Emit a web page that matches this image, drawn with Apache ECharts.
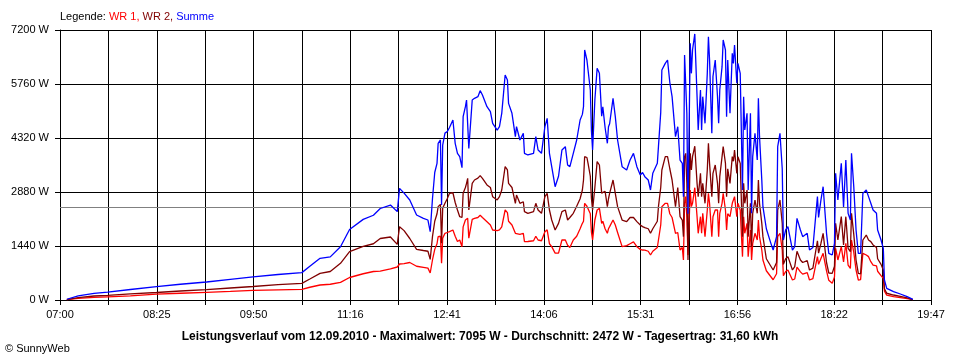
<!DOCTYPE html>
<html><head><meta charset="utf-8">
<script src="https://cdn.jsdelivr.net/npm/echarts@6/dist/echarts.min.js"></script>
<style>html,body{margin:0;padding:0;background:#fff}#c{width:960px;height:360px}</style>
</head><body><div id="c"></div>
<script>
// Time stamps (HH:MM)
const times = [
'07:06','07:16','07:30','07:42','08:02','08:25','08:46','09:09','09:30','09:50',
'10:12','10:33','10:40','10:49','10:58','11:07','11:15','11:27','11:36','11:42',
'11:51','11:57','11:59','12:03','12:08','12:14','12:20','12:24','12:26','12:28',
'12:30','12:32','12:33','12:35','12:36','12:37','12:39','12:41','12:43','12:46',
'12:48','12:50','12:52','12:54','12:55','12:57','12:58','12:59','13:00','13:03',
'13:05','13:08','13:10','13:12','13:16','13:19','13:21','13:25','13:27','13:29',
'13:32','13:34','13:35','13:38','13:41','13:42','13:45','13:48','13:49','13:52',
'13:57','13:59','14:01','14:04','14:07','14:09','14:11','14:13','14:16','14:19',
'14:22','14:25','14:27','14:29','14:32','14:35','14:38','14:40','14:41','14:42',
'14:44','14:45','14:47','14:48','14:49','14:51','14:53','14:55','14:57','14:58',
'15:00','15:02','15:03','15:04','15:07','15:09','15:11','15:15','15:19','15:22',
'15:25','15:28','15:31','15:33','15:35','15:38','15:40','15:42','15:46','15:47',
'15:49','15:50','15:53','15:55','15:57','15:59','16:02','16:04','16:06','16:08',
'16:09','16:10','16:11','16:12','16:13','16:15','16:16','16:17','16:19','16:21',
'16:22','16:24','16:25','16:26','16:28','16:30','16:31','16:32','16:34','16:35',
'16:37','16:39','16:40','16:41','16:43','16:44','16:46','16:47','16:48','16:50',
'16:52','16:53','16:54','16:56','16:57','16:59','17:01','17:02','17:03','17:05',
'17:06','17:08','17:09','17:10','17:12','17:14','17:15','17:16','17:18','17:19',
'17:22','17:23','17:26','17:28','17:31','17:32','17:34','17:36','17:37','17:39',
'17:41','17:45','17:47','17:49','17:52','17:54','17:58','18:00','18:03','18:07',
'18:08','18:10','18:12','18:15','18:17','18:20','18:22','18:23','18:25','18:28',
'18:30','18:32','18:34','18:36','18:37','18:39','18:41','18:43','18:45','18:47',
'18:50','18:52','18:54','18:56','18:59','19:00','19:03','19:05','19:06','19:08',
'19:14','19:20','19:26','19:31'
];
// WR 2 (dark red), W
const wr2 = [
10,65,107,125,165,200,240,275,320,360,
410,445,560,711,760,978,1289,1430,1500,1640,
1680,1484,1956,1850,1640,1351,1320,1300,1084,1689,
2100,2300,2489,2550,1511,2450,2578,2700,2844,2860,
2600,2400,2222,2200,2844,3000,3111,3244,2400,3111,
3200,3250,3316,3244,3067,3000,2756,2667,2756,2933,
3556,3467,3111,3000,2578,2800,2578,2620,2356,2311,
2356,2578,2400,2311,2756,2844,2400,2133,1867,2044,
2356,2400,2133,2200,2311,2500,2700,2933,3200,3822,
3800,3644,3300,2700,2400,3000,3689,3600,2850,2900,
2900,2489,2700,2844,3200,2844,2489,2133,2090,2200,
2200,2090,2000,1956,1930,1900,1778,1900,2100,2489,
3000,3467,3822,3822,3500,3200,2489,3000,2222,2133,
1689,3822,3911,3111,1067,3911,3467,3822,4100,3111,
2756,3378,2756,3111,2578,3467,4178,3644,2756,3378,
3600,3111,2578,3289,3822,4089,3644,2756,3500,3111,
3822,3700,4000,3378,3822,3644,1689,3111,2578,2933,
1689,2578,1422,2311,2667,2311,3200,2578,2044,1689,
1100,1100,900,800,1000,2400,2667,2044,950,1100,
1156,800,889,1300,1067,1000,1050,800,850,1580,
1250,1500,1778,1000,720,711,900,2044,1600,2222,
1467,2222,1378,1289,2311,1750,1067,711,700,1600,
1733,1600,1556,1467,1400,1100,950,800,300,180,
133,98,55,10
];
// WR 1 (red), W
const wr1 = [
10,45,71,85,110,155,180,205,230,255,
270,285,340,400,420,470,600,700,760,770,
830,880,960,970,1000,900,870,850,720,1067,
1350,1500,1689,1700,978,1650,1778,1800,1822,1867,
1700,1560,1600,1422,1950,2133,2150,2178,1650,2150,
2178,2200,2258,2200,2089,2000,1867,1850,1867,1950,
2400,2330,2100,2000,1778,1820,1750,1780,1556,1560,
1580,1700,1600,1580,1822,1870,1500,1422,1250,1250,
1600,1600,1460,1400,1600,1700,1900,2044,2100,2578,
2500,2489,2300,1800,1600,2133,2400,2444,2044,2100,
1900,1778,1900,1956,2133,2000,1800,1422,1450,1500,
1550,1422,1350,1333,1330,1300,1200,1300,1400,1600,
2000,2489,2578,2578,2300,2200,1778,1800,1333,1400,
1067,2578,2756,2222,1200,2933,2489,2578,2995,2222,
1778,2222,1778,2311,1689,2400,2844,2578,1689,2222,
2400,2400,1689,2311,2578,2844,2400,1867,2300,2222,
2578,2600,2756,2222,2578,2400,1156,2222,1778,2044,
1156,1867,1067,1511,1778,1600,2133,1689,1333,1067,
780,760,620,540,700,1689,1780,1333,650,760,
800,533,560,878,750,689,730,533,570,1156,
950,1100,1244,778,524,444,611,1380,1067,1422,
1013,1511,933,844,1600,1272,800,533,544,1244,
1200,1156,1022,933,911,767,650,578,233,131,
89,62,34,8
];
// Summe (blue), W
const summe = [
20,110,178,210,280,355,420,480,550,615,
680,730,900,1111,1150,1420,1880,2150,2260,2440,
2533,2356,2978,2850,2667,2267,2178,2133,1822,2700,
3400,3644,4178,4267,2533,4133,4450,4489,4600,4800,
4178,3911,3822,3530,4889,5156,5333,5378,4044,5333,
5378,5422,5582,5467,5156,5022,4711,4533,4622,4978,
6000,5867,5244,4978,4356,4622,4267,4444,3911,3867,
3911,4356,4000,3911,4622,4844,3911,3556,3022,3300,
4000,4089,3600,3556,3911,4267,4800,4950,5156,6667,
6400,6133,5600,4500,4000,5333,6178,6044,4900,5150,
4600,4178,4622,4700,5378,4889,4267,3556,3467,3733,
3911,3556,3333,3400,3289,3200,2933,3378,3644,4089,
5000,6133,6311,6400,5800,5422,4356,4622,3733,3644,
2756,6533,6578,4978,2300,6844,6044,6667,7095,5422,
4533,5600,4533,5422,4711,6044,7022,6400,4444,5960,
6400,5422,4711,5600,6222,6933,6667,4889,6400,4978,
6578,6311,6800,5778,6311,6044,2933,5422,4533,4978,
2933,4978,2311,3822,4444,3733,5378,4356,3200,2489,
1900,1867,1511,1333,1689,4089,4444,3500,1600,1867,
1956,1333,1422,2178,1867,1689,1780,1333,1400,2756,
2200,2650,3022,1778,1244,1200,1511,3378,2667,3644,
2480,3733,2311,2133,3911,3022,1867,1244,1244,2844,
2933,2756,2578,2400,2311,1867,1600,1378,533,311,
222,160,89,18
];
const tickLabels = ['07:00','08:25','09:50','11:16','12:41','14:06','15:31','16:56','18:22','19:47'];
const yMax = 7200, yStep = 1440;
const average = 2472;
const startMin = 7*60, spanMin = 767, nTicks = 18;
const legendText = ['Legende: ', 'WR 1, ', 'WR 2, ', 'Summe'];
const titleText = 'Leistungsverlauf vom 12.09.2010 - Maximalwert: 7095 W - Durchschnitt: 2472 W - Tagesertrag: 31,60 kWh';
const copyText = '\u00A9 SunnyWeb';

function toX(t){const p=t.split(':').map(Number);return (p[0]*60+p[1]-startMin)*nTicks/spanMin;}
function pairs(arr){return times.map((t,i)=>[toX(t),arr[i]]);}
const FONT = '"Liberation Sans", Arial, sans-serif';
const chart = echarts.init(document.getElementById('c'), null, {renderer:'canvas'});
chart.setOption({
  animation:false,
  backgroundColor:'#ffffff',
  grid:{left:60,right:29,top:30,bottom:60,containLabel:false,outerBoundsMode:'none'},
  xAxis:{type:'value',min:0,max:nTicks,interval:1,
    axisLine:{show:true,lineStyle:{color:'#000',width:1}},
    axisTick:{show:true,length:5,inside:false,lineStyle:{color:'#000',width:1}},
    axisLabel:{show:true,color:'#000',fontFamily:FONT,fontSize:11,margin:9,showMinLabel:true,showMaxLabel:true,hideOverlap:false,
      formatter:function(v){const i=Math.round(v);return i%2===0?tickLabels[i/2]:'';}},
    splitLine:{show:true,lineStyle:{color:'#000',width:1}}},
  yAxis:{type:'value',min:0,max:yMax,interval:yStep,
    axisLine:{show:true,lineStyle:{color:'#000',width:1}},
    axisTick:{show:true,length:5,inside:false,lineStyle:{color:'#000',width:1}},
    axisLabel:{show:true,color:'#000',fontFamily:FONT,fontSize:11,margin:11,showMinLabel:true,showMaxLabel:true,
      formatter:function(v){return v+' W';}},
    splitLine:{show:true,lineStyle:{color:'#000',width:1}}},
  series:[
    {name:'WR 1',type:'line',data:pairs(wr1),showSymbol:false,symbol:'none',color:'#ff0000',
      lineStyle:{color:'#ff0000',width:1.3},z:3,
      markLine:{silent:true,symbol:'none',label:{show:false},animation:false,
        lineStyle:{color:'#808080',type:'solid',width:1},data:[{yAxis:average}]}},
    {name:'WR 2',type:'line',data:pairs(wr2),showSymbol:false,symbol:'none',color:'#800000',
      lineStyle:{color:'#800000',width:1.3},z:4},
    {name:'Summe',type:'line',data:pairs(summe),showSymbol:false,symbol:'none',color:'#0000ff',
      lineStyle:{color:'#0000ff',width:1.3},z:5}
  ],
  graphic:[
    {type:'text',x:60,y:17,style:{
      text:'{a|'+legendText[0]+'}{b|'+legendText[1]+'}{c|'+legendText[2]+'}{d|'+legendText[3]+'}',
      verticalAlign:'middle',textVerticalAlign:'middle',
      font:'11px '+FONT,
      rich:{a:{fill:'#000000',fontSize:11,fontFamily:FONT},
            b:{fill:'#ff0000',fontSize:11,fontFamily:FONT},
            c:{fill:'#800000',fontSize:11,fontFamily:FONT},
            d:{fill:'#0000ff',fontSize:11,fontFamily:FONT}}}},
    {type:'text',x:480,y:337,style:{text:titleText,align:'center',textAlign:'center',verticalAlign:'middle',textVerticalAlign:'middle',
      fill:'#000',font:'bold 12px '+FONT}},
    {type:'text',x:5,y:349,style:{text:copyText,verticalAlign:'middle',textVerticalAlign:'middle',
      fill:'#000',font:'11px '+FONT}}
  ]
});
</script>
</body></html>
